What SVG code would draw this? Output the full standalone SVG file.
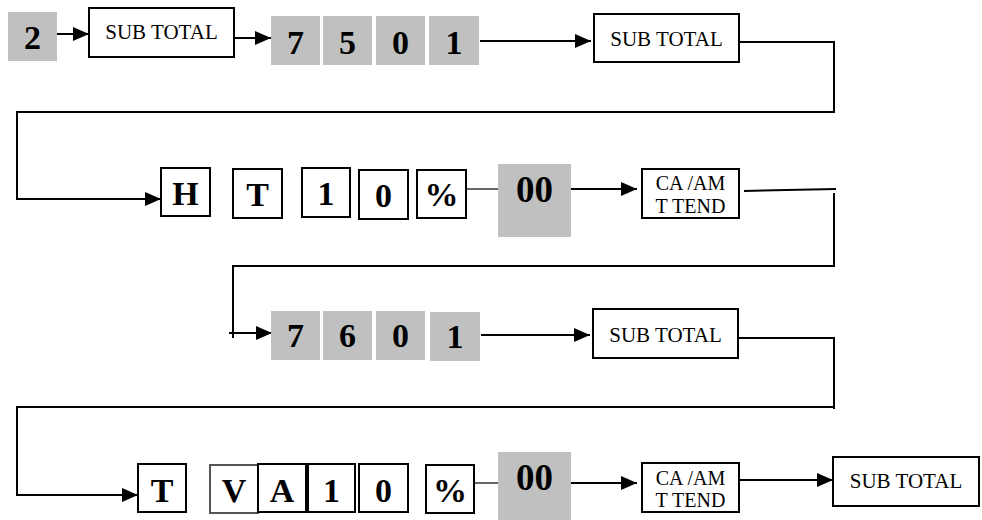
<svg xmlns="http://www.w3.org/2000/svg" width="982" height="520" viewBox="0 0 982 520">
<style>
.g{fill:#c0c0c0;stroke:none}
.w{fill:#fff;stroke:#000;stroke-width:2}
.k{font-family:"Liberation Serif","Times New Roman",serif;font-weight:bold;font-size:34px;text-anchor:middle;fill:#000}
.kk{font-size:37px}
.s{font-family:"Liberation Serif","Times New Roman",serif;font-size:21px;text-anchor:middle;fill:#000}
.c{font-family:"Liberation Serif","Times New Roman",serif;font-size:20px;text-anchor:middle;fill:#000}
.ln{fill:none;stroke:#000;stroke-width:2}
.th{fill:none;stroke:#333;stroke-width:1.5}
</style>
<defs>
<marker id="ah" markerWidth="16" markerHeight="14" refX="16" refY="7" orient="auto" markerUnits="userSpaceOnUse"><path d="M0,0 L16,7 L0,14 z" fill="#000"/></marker>
</defs>
<g id="connectors">
<line class="ln" x1="57" y1="34" x2="89" y2="34" marker-end="url(#ah)"/>
<line class="ln" x1="234" y1="38" x2="271" y2="38" marker-end="url(#ah)"/>
<line class="ln" x1="480" y1="41" x2="591" y2="41" marker-end="url(#ah)"/>
<polyline class="ln" points="739,42 834,42 834,112 17,112 17,199 161,199" marker-end="url(#ah)"/>
<line class="th" x1="466" y1="189" x2="498" y2="189"/>
<line class="ln" x1="571" y1="189" x2="637" y2="189" marker-end="url(#ah)"/>
<line class="ln" x1="744" y1="191" x2="836" y2="189"/>
<polyline class="ln" points="834,193 834,266 233,266 233,338"/>
<line class="ln" x1="229" y1="333" x2="272" y2="333" marker-end="url(#ah)"/>
<line class="ln" x1="481" y1="335" x2="590" y2="335" marker-end="url(#ah)"/>
<polyline class="ln" points="738,338 834,338 834,409"/>
<polyline class="ln" points="834,407 17,407 17,495 138,495" marker-end="url(#ah)"/>
<line class="th" x1="474" y1="483" x2="498" y2="483"/>
<line class="ln" x1="571" y1="483" x2="637" y2="483" marker-end="url(#ah)"/>
<line class="ln" x1="739" y1="480" x2="833" y2="480" marker-end="url(#ah)"/>
</g>
<g id="k2"><rect class="g" x="8" y="12" width="49" height="49"/><text class="k" x="32.5" y="49">2</text></g>
<g id="st1"><rect class="w" x="89" y="8" width="145" height="49"/><text class="s" x="161.5" y="39">SUB TOTAL</text></g>
<g id="r1-7"><rect class="g" x="271" y="16" width="49" height="49"/><text class="k" x="295.5" y="54">7</text></g>
<g id="r1-5"><rect class="g" x="323" y="16" width="49" height="49"/><text class="k" x="347.5" y="54">5</text></g>
<g id="r1-0"><rect class="g" x="376" y="16" width="49" height="49"/><text class="k" x="400.5" y="54">0</text></g>
<g id="r1-1"><rect class="g" x="429" y="16" width="50" height="49"/><text class="k" x="454" y="54">1</text></g>
<g id="st2"><rect class="w" x="594" y="14" width="145" height="48"/><text class="s" x="666.5" y="46">SUB TOTAL</text></g>
<g id="r2-H"><rect class="w" x="161" y="168" width="49" height="48"/><text class="k" x="185.5" y="205">H</text></g>
<g id="r2-T"><rect class="w" x="233" y="169" width="49" height="49"/><text class="k" x="257.5" y="206">T</text></g>
<g id="r2-1"><rect class="w" x="302" y="168" width="48" height="49"/><text class="k" x="326" y="205">1</text></g>
<g id="r2-0"><rect class="w" x="359" y="170" width="49" height="49"/><text class="k" x="383.5" y="207">0</text></g>
<g id="r2-pct"><rect class="w" x="417" y="170" width="49" height="48"/><text class="k" x="441.5" y="206">%</text></g>
<g id="r2-00"><rect class="g" x="498" y="164" width="73" height="73"/><text class="k kk" x="534.5" y="202">00</text></g>
<g id="ca1"><rect class="w" x="642" y="169" width="97" height="49"/><text class="c" x="690.5" y="190">CA /AM</text><text class="c" x="690.5" y="213">T TEND</text></g>
<g id="r3-7"><rect class="g" x="271" y="311" width="49" height="49"/><text class="k" x="295.5" y="347">7</text></g>
<g id="r3-6"><rect class="g" x="323" y="311" width="49" height="49"/><text class="k" x="347.5" y="347">6</text></g>
<g id="r3-0"><rect class="g" x="376" y="311" width="49" height="49"/><text class="k" x="400.5" y="347">0</text></g>
<g id="r3-1"><rect class="g" x="430" y="312" width="50" height="49"/><text class="k" x="455" y="348">1</text></g>
<g id="st3"><rect class="w" x="593" y="309" width="145" height="49"/><text class="s" x="665.5" y="342">SUB TOTAL</text></g>
<g id="r4-T"><rect class="w" x="138" y="464" width="48" height="48"/><text class="k" x="162" y="502">T</text></g>
<g id="r4-V"><rect class="w" x="210" y="465" width="48" height="48" style="stroke:#555"/><text class="k" x="234" y="502">V</text></g>
<g id="r4-A"><rect class="w" x="258" y="464" width="48" height="48"/><text class="k" x="282" y="502">A</text></g>
<g id="r4-1"><rect class="w" x="308" y="464" width="47" height="48"/><text class="k" x="331.5" y="502">1</text></g>
<g id="r4-0"><rect class="w" x="359" y="464" width="49" height="48"/><text class="k" x="383.5" y="502">0</text></g>
<g id="r4-pct"><rect class="w" x="426" y="465" width="48" height="48"/><text class="k" x="450" y="502">%</text></g>
<g id="r4-00"><rect class="g" x="498" y="452" width="73" height="73"/><text class="k kk" x="534.5" y="490">00</text></g>
<g id="ca2"><rect class="w" x="642" y="463" width="97" height="49"/><text class="c" x="690.5" y="485">CA /AM</text><text class="c" x="690.5" y="507">T TEND</text></g>
<g id="st4"><rect class="w" x="833" y="457" width="146" height="49"/><text class="s" x="906" y="488">SUB TOTAL</text></g>
</svg>
